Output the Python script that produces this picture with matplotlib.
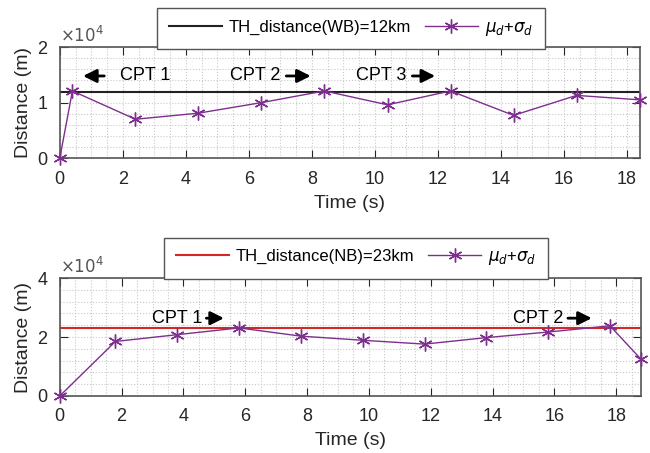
import matplotlib
matplotlib.use("Agg")
import matplotlib.pyplot as plt
from matplotlib.ticker import MultipleLocator

plt.rcParams['font.family'] = ['Liberation Sans', 'DejaVu Sans']

# Top panel (WB)
t_wb = [0, 0.4, 2.4, 4.4, 6.4, 8.4, 10.4, 12.4, 14.4, 16.4, 18.4]
d_wb = [0, 12100, 7000, 8100, 10000, 12100, 9600, 12100, 7700, 11300, 10500]
th_wb = 12000

# Bottom panel (NB)
t_nb = [0, 1.8, 3.8, 5.8, 7.8, 9.8, 11.8, 13.8, 15.8, 17.8, 18.8]
d_nb = [0, 18500, 20800, 23100, 20300, 18900, 17600, 19800, 21700, 23800, 12500]
th_nb = 23000

purple = '#7E2F8E'
asterisk = (6, 2, 0)

fig = plt.figure(figsize=(6.5, 4.53), dpi=100)
ax1 = fig.add_axes([0.092, 0.651, 0.892, 0.245])
ax2 = fig.add_axes([0.092, 0.126, 0.894, 0.260])

def style(ax, xmax, ymax, yticks, yticklabels):
    ax.set_xlim(0, xmax)
    ax.set_ylim(0, ymax)
    ax.xaxis.set_major_locator(MultipleLocator(2))
    ax.xaxis.set_minor_locator(MultipleLocator(0.5))
    ax.set_yticks(yticks)
    ax.set_yticklabels(yticklabels)
    ax.yaxis.set_minor_locator(MultipleLocator(ymax / 10))
    ax.tick_params(which='major', direction='in', top=True, right=True, labelsize=13,
                   colors='#262626', length=6, pad=9)
    ax.tick_params(which='minor', length=0)
    ax.grid(which='both', linestyle=':', color='#c8c8c8', linewidth=0.8)
    for s in ax.spines.values():
        s.set_color('#555555')
        s.set_linewidth(1.2)
    ax.set_xlabel('Time (s)', fontsize=14, color='#262626', labelpad=5)
    ax.set_ylabel('Distance (m)', fontsize=14, color='#262626', labelpad=4)
    ax.text(0.0, 1.02, r'$\times10^4$', transform=ax.transAxes, fontsize=12, color='#555555', ha='left', va='bottom')

style(ax1, 18.4, 20000, [0, 10000, 20000], ['0', '1', '2'])
style(ax2, 18.8, 40000, [0, 20000, 40000], ['0', '2', '4'])

legkw = dict(loc='center', ncol=2, fontsize=12, fancybox=False, edgecolor='#555555', framealpha=1,
             handlelength=3.2, borderpad=0.7, columnspacing=0.8, handletextpad=0.4)

l1, = ax1.plot([0, 18.4], [th_wb, th_wb], color='#222222', lw=1.5, label='TH_distance(WB)=12km')
l2, = ax1.plot(t_wb, d_wb, color=purple, marker=asterisk, markersize=10, lw=1.0,
               label=r'$\mu_d$+$\sigma_d$', clip_on=False, zorder=5)
fig.legend(handles=[l1, l2], bbox_to_anchor=(0.54, 0.937), **legkw)

l3, = ax2.plot([0, 18.8], [th_nb, th_nb], color='#d62728', lw=1.5, label='TH_distance(NB)=23km')
l4, = ax2.plot(t_nb, d_nb, color=purple, marker=asterisk, markersize=10, lw=1.0,
               label=r'$\mu_d$+$\sigma_d$', clip_on=False, zorder=5)
fig.legend(handles=[l3, l4], bbox_to_anchor=(0.548, 0.43), **legkw)

aprops = dict(arrowstyle='-|>', color='black', lw=2.0, mutation_scale=20)
# Top annotations
ax1.annotate('', xy=(0.65, 14800), xytext=(1.5, 14800), arrowprops=aprops)
ax1.text(1.9, 14800, 'CPT 1', fontsize=13, va='center', ha='left')
ax1.text(7.0, 14800, 'CPT 2', fontsize=13, va='center', ha='right')
ax1.annotate('', xy=(8.05, 14800), xytext=(7.1, 14800), arrowprops=aprops)
ax1.text(11.0, 14800, 'CPT 3', fontsize=13, va='center', ha='right')
ax1.annotate('', xy=(12.0, 14800), xytext=(11.1, 14800), arrowprops=aprops)
# Bottom annotations
ax2.text(4.6, 26400, 'CPT 1', fontsize=13, va='center', ha='right')
ax2.annotate('', xy=(5.4, 26400), xytext=(4.65, 26400), arrowprops=aprops)
ax2.text(16.3, 26400, 'CPT 2', fontsize=13, va='center', ha='right')
ax2.annotate('', xy=(17.3, 26400), xytext=(16.35, 26400), arrowprops=aprops)

fig.savefig('out.png', dpi=100)
